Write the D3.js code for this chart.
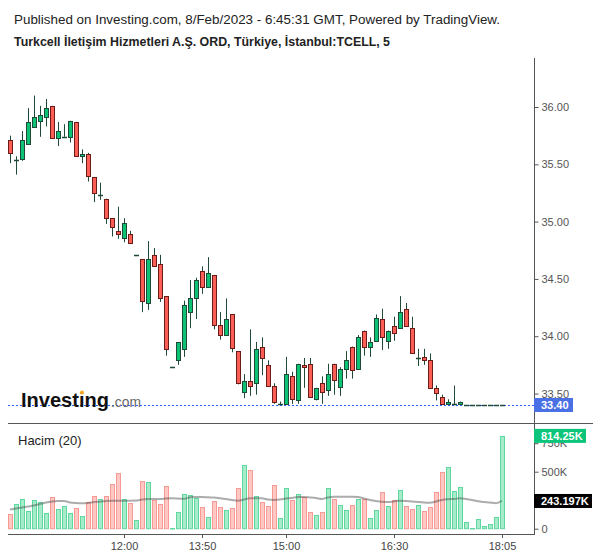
<!DOCTYPE html>
<html>
<head>
<meta charset="utf-8">
<script src="https://cdn.jsdelivr.net/npm/d3@7"></script>
<style>
  body { margin: 0; background: #fff; }
  svg { display: block; font-family: "Liberation Sans", Arial, sans-serif; }
</style>
</head>
<body>
<div id="chart"></div>
<script>
// 5 minute candles, index 0..82
const openP = [35.71,35.54,35.54,35.68,35.82,35.88,35.91,36.01,35.73,35.74,35.74,35.87,35.57,35.59,35.39,35.23,35.20,35.03,34.92,34.86,34.89,34.71,34.67,34.29,34.71,34.63,34.35,33.73,33.79,33.89,34.21,34.33,34.57,34.43,34.53,34.10,34.01,34.19,33.87,33.51,33.61,33.59,33.91,33.75,33.57,33.40,33.41,33.65,33.45,33.75,33.76,33.45,33.59,33.53,33.76,33.55,33.71,33.91,33.71,34.05,33.91,33.96,34.15,33.96,34.09,34.07,34.24,34.07,33.81,33.82,33.79,33.55,33.47,33.41,33.40,33.41,33.40,33.40,33.40,33.40,33.40,33.40,33.40]
const highP = [35.75,35.57,35.79,35.99,36.10,36.01,36.07,36.01,35.87,35.85,35.88,35.87,35.63,35.60,35.39,35.34,35.20,35.03,35.13,35.03,34.92,34.71,34.67,34.83,34.77,34.71,34.35,33.73,33.95,34.31,34.49,34.51,34.61,34.69,34.53,34.21,34.33,34.19,33.87,33.67,34.06,33.95,33.99,33.79,33.59,33.43,33.82,33.69,33.76,33.81,33.81,33.55,33.65,33.76,33.76,33.73,33.87,33.91,34.01,34.05,33.99,34.19,34.24,34.05,34.17,34.35,34.29,34.17,33.89,33.89,33.85,33.57,33.49,33.45,33.57,33.43,33.40,33.40,33.40,33.40,33.40,33.40,33.40]
const lowP = [35.51,35.41,35.53,35.68,35.82,35.74,35.83,35.73,35.66,35.74,35.69,35.57,35.51,35.35,35.17,35.19,34.98,34.87,34.85,34.82,34.81,34.71,34.21,34.23,34.61,34.30,33.83,33.73,33.75,33.82,34.07,34.15,34.37,34.43,34.06,33.97,34.01,33.86,33.58,33.46,33.48,33.49,33.66,33.57,33.41,33.40,33.41,33.41,33.41,33.55,33.47,33.44,33.41,33.48,33.49,33.48,33.63,33.63,33.71,33.83,33.82,33.96,33.88,33.89,33.96,34.07,34.09,33.85,33.74,33.75,33.55,33.44,33.41,33.41,33.40,33.41,33.40,33.40,33.40,33.40,33.40,33.40,33.40]
const closeP = [35.60,35.54,35.71,35.87,35.91,35.93,35.99,35.73,35.79,35.74,35.88,35.57,35.59,35.40,35.25,35.23,35.03,34.95,34.89,34.99,34.81,34.71,34.30,34.67,34.61,34.33,33.89,33.73,33.95,34.27,34.33,34.49,34.43,34.55,34.09,34.01,34.15,33.89,33.59,33.61,33.57,33.89,33.81,33.57,33.43,33.41,33.67,33.45,33.76,33.73,33.47,33.55,33.51,33.67,33.62,33.71,33.79,33.71,33.99,33.91,33.95,34.16,33.99,34.05,34.03,34.21,34.09,33.85,33.81,33.79,33.55,33.51,33.41,33.43,33.41,33.43,33.40,33.40,33.40,33.40,33.40,33.40,33.40]

// volume in thousands
const volumeK = [126,214,258,155,252,237,135,275,170,196,135,179,109,237,284,258,284,392,489,258,223,76,416,410,249,214,372,3,144,304,293,272,188,100,240,188,161,179,354,556,512,284,232,196,381,91,354,249,302,275,144,118,144,354,258,205,161,205,258,258,91,161,319,196,249,337,196,170,205,153,188,319,495,539,328,363,56,4,82,21,39,100,814.25]
// Hacim (20) moving average
const volumeMA = [168,177,186,195,204,217,230,239,243,243,230,225,223,225,234,237,243,246,246,246,246,247,256,261,261,261,265,267,265,262,275,278,278,275,274,268,261,252,246,256,267,267,267,256,252,256,265,269,278,278,274,269,261,274,281,281,281,281,278,265,252,243,237,234,239,246,243,239,234,230,228,239,252,258,261,267,261,252,240,234,230,223,243.197]

const timeTicks = [[19, "12:00"], [32, "13:50"], [46, "15:00"], [64, "16:30"], [82, "18:05"]]
const priceTicks = [33.5, 34, 34.5, 35, 35.5, 36]
const volumeTicks = [0, 500, 750]
const lastPrice = 33.40

const W = 600, H = 558
const axisX = 534

const svg = d3.select("#chart").append("svg")
  .attr("width", W).attr("height", H)

// titles
svg.append("text").attr("x", 14).attr("y", 24)
  .attr("font-size", "12px").attr("fill", "#222")
  .attr("textLength", 486).attr("lengthAdjust", "spacingAndGlyphs")
  .text("Published on Investing.com, 8/Feb/2023 - 6:45:31 GMT, Powered by TradingView.")
svg.append("text").attr("x", 14).attr("y", 46)
  .attr("font-size", "12px").attr("font-weight", "bold").attr("fill", "#222")
  .attr("textLength", 376).attr("lengthAdjust", "spacingAndGlyphs")
  .text("Turkcell İletişim Hizmetleri A.Ş. ORD, Türkiye, İstanbul:TCELL, 5")

// scales
const x = d3.scaleLinear().domain([0, 82]).range([10, 502])
const y = d3.scaleLinear().domain([33.40, 36.00]).range([405, 107])
const yv = d3.scaleLinear().domain([0, 500]).range([528.7, 471.7])

const snap = v => Math.round(v) + 0.5

// last price dotted line
svg.append("line")
  .attr("x1", 8).attr("x2", axisX)
  .attr("y1", snap(y(lastPrice) - 0.5)).attr("y2", snap(y(lastPrice) - 0.5))
  .attr("stroke", "#2962ff").attr("stroke-dasharray", "2,2")

// candles
const candles = d3.range(openP.length).map(i => ({
  i, o: openP[i], h: highP[i], l: lowP[i], c: closeP[i]
}))
const cg = svg.append("g")
cg.selectAll("line.wick").data(candles).enter().append("line")
  .attr("class", "wick")
  .attr("x1", d => x(d.i) + 0.5).attr("x2", d => x(d.i) + 0.5)
  .attr("y1", d => y(d.h)).attr("y2", d => y(d.l))
  .attr("stroke", "#1f4a37")
cg.selectAll("g.body").data(candles).enter().append("g")
  .each(function (d) {
    const up = d.c >= d.o
    const top = y(Math.max(d.o, d.c)), bot = y(Math.min(d.o, d.c))
    const g = d3.select(this)
    if (bot - top < 1.5) {
      g.append("line")
        .attr("x1", x(d.i) - 2).attr("x2", x(d.i) + 3)
        .attr("y1", snap(top)).attr("y2", snap(top))
        .attr("stroke", up ? "#1f4a37" : "#6a1d18").attr("stroke-width", 1.5)
    } else {
      g.append("rect")
        .attr("x", x(d.i) - 1.5).attr("width", 4)
        .attr("y", snap(top)).attr("height", Math.max(1, Math.round(bot - top)))
        .attr("fill", up ? "#0cc274" : "#fd5e55")
        .attr("stroke", up ? "#1f4a37" : "#6a1d18")
    }
  })

// Investing logo
svg.append("text").attr("x", 21).attr("y", 407)
  .attr("font-size", "21px").attr("font-weight", "bold").attr("fill", "#111")
  .attr("textLength", 88).attr("lengthAdjust", "spacingAndGlyphs")
  .text("Investing")
svg.append("circle").attr("cx", 82).attr("cy", 392.5).attr("r", 2).attr("fill", "#f7a823")
svg.append("text").attr("x", 111).attr("y", 407)
  .attr("font-size", "14px").attr("fill", "#666")
  .attr("textLength", 30).attr("lengthAdjust", "spacingAndGlyphs")
  .text(".com")

// volume bars
const vg = svg.append("g")
vg.selectAll("rect").data(volumeK).enter().append("rect")
  .attr("x", (d, i) => x(i) - 1.5).attr("width", 4)
  .attr("y", d => snap(yv(d)))
  .attr("height", d => Math.max(0.5, yv(0) - snap(yv(d))))
  .attr("fill", (d, i) => closeP[i] >= openP[i] ? "#a6ecca" : "#ffc8c5")
  .attr("stroke", (d, i) => closeP[i] >= openP[i] ? "#5fd8a0" : "#f89a94")

// volume MA line
const ma = d3.line().x((d, i) => x(i)).y(d => yv(d)).curve(d3.curveMonotoneX)
svg.append("path").datum(volumeMA)
  .attr("d", ma).attr("fill", "none")
  .attr("stroke", "rgba(70,70,70,0.45)").attr("stroke-width", 2)

svg.append("text").attr("x", 18).attr("y", 445)
  .attr("font-size", "13px").attr("fill", "#222").text("Hacim (20)")

// pane frame
svg.append("line").attr("x1", 8).attr("x2", 593).attr("y1", 423.5).attr("y2", 423.5)
  .attr("stroke", "#555")
svg.append("line").attr("x1", 8).attr("x2", axisX).attr("y1", 534.5).attr("y2", 534.5)
  .attr("stroke", "#555")
svg.append("line").attr("x1", axisX + 0.5).attr("x2", axisX + 0.5).attr("y1", 58).attr("y2", 535)
  .attr("stroke", "#555")

// price axis
const pAxis = svg.append("g").attr("transform", `translate(${axisX + 0.5},0)`)
  .call(d3.axisRight(y).tickValues(priceTicks).tickSize(4).tickPadding(3).tickFormat(d3.format(".2f")))
pAxis.select(".domain").remove()
pAxis.selectAll("line").attr("stroke", "#555")
pAxis.selectAll("text").attr("fill", "#555").attr("font-size", "11px")
  .attr("font-family", "Liberation Sans, Arial, sans-serif")

// volume axis (750K sits partly under the volume badge, as in the source)
const vAxis = svg.append("g").attr("transform", `translate(${axisX + 0.5},0)`)
  .call(d3.axisRight(yv).tickValues(volumeTicks).tickSize(4).tickPadding(3)
    .tickFormat(d => d === 0 ? "0" : d + "K"))
vAxis.select(".domain").remove()
vAxis.selectAll("line").attr("stroke", "#555")
vAxis.selectAll("text").attr("fill", "#555").attr("font-size", "11px")
  .attr("font-family", "Liberation Sans, Arial, sans-serif")

// time axis
const tg = svg.append("g")
tg.selectAll("line").data(timeTicks).enter().append("line")
  .attr("x1", d => x(d[0]) + 0.5).attr("x2", d => x(d[0]) + 0.5)
  .attr("y1", 535).attr("y2", 538).attr("stroke", "#555")
tg.selectAll("text").data(timeTicks).enter().append("text")
  .attr("x", d => x(d[0]) + 0.5).attr("y", 550)
  .attr("text-anchor", "middle").attr("font-size", "11px").attr("fill", "#444")
  .text(d => d[1])

// value badges
function badge(yc, w, fill, label) {
  svg.append("rect").attr("x", axisX).attr("y", yc - 7).attr("width", w).attr("height", 14)
    .attr("fill", fill)
  svg.append("text").attr("x", axisX + 7).attr("y", yc + 4)
    .attr("font-size", "11px").attr("font-weight", "bold").attr("fill", "#fff").text(label)
}
badge(y(lastPrice), 39, "#4a70e5", lastPrice.toFixed(2))
badge(yv(volumeK[volumeK.length - 1]), 52, "#0cc47a", "814.25K")
badge(yv(volumeMA[volumeMA.length - 1]), 58, "#000", "243.197K")
</script>
</body>
</html>
